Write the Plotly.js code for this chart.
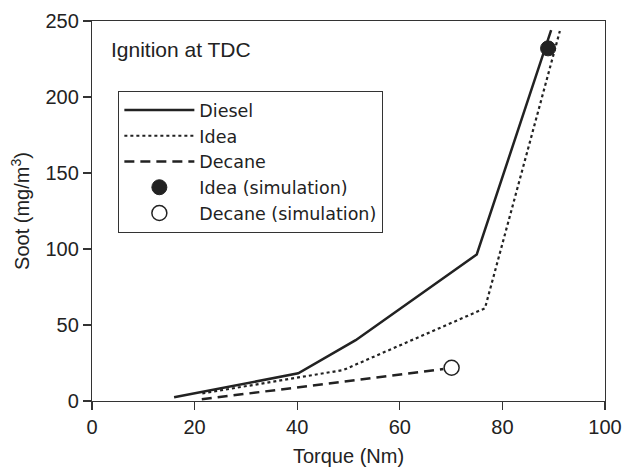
<!DOCTYPE html>
<html>
<head>
<meta charset="utf-8">
<script src="https://cdn.plot.ly/plotly-3.0.1.min.js"></script>
<style>html,body{margin:0;padding:0;background:#fff;}#chart{width:623px;height:468px;}</style>
</head>
<body>
<div id="chart"></div>
<script>
// Data
const dieselTorque = [16, 40.2, 51.4, 75, 89.5];
const dieselSoot   = [2.4, 18.2, 40, 96.4, 244];

const ideaTorque = [21.5, 40, 49, 76.6, 91.2];
const ideaSoot   = [5, 15.5, 20.4, 61, 243.4];

const decaneTorque = [21.4, 40, 68.5];
const decaneSoot   = [1.1, 9, 21];

const ideaSimTorque = [88.9];
const ideaSimSoot   = [232];

const decaneSimTorque = [70.1];
const decaneSimSoot   = [21.9];

const xTicks = [0, 20, 40, 60, 80, 100];
const yTicks = [0, 50, 100, 150, 200, 250];

const ink = '#222222';
const font = {family: 'Liberation Sans, Arial, sans-serif', size: 20, color: ink};

const traces = [
  {x: dieselTorque, y: dieselSoot, name: 'Diesel', mode: 'lines',
   line: {color: ink, width: 2.5}},
  {x: ideaTorque, y: ideaSoot, name: 'Idea', mode: 'lines',
   line: {color: ink, width: 2.2, dash: 'dot'}},
  {x: decaneTorque, y: decaneSoot, name: 'Decane', mode: 'lines',
   line: {color: ink, width: 2.5, dash: '10px,6px'}},
  {x: ideaSimTorque, y: ideaSimSoot, name: 'Idea (simulation)', mode: 'markers',
   marker: {symbol: 'circle', size: 15, color: ink, line: {color: ink, width: 1}}},
  {x: decaneSimTorque, y: decaneSimSoot, name: 'Decane (simulation)', mode: 'markers',
   marker: {symbol: 'circle', size: 15, color: '#ffffff', line: {color: ink, width: 1.5}}}
];

const axisCommon = {
  showgrid: false, zeroline: false, showline: true, mirror: true,
  linecolor: '#333', linewidth: 1.2, ticks: 'outside', ticklen: 8,
  tickcolor: '#333', tickwidth: 1.2, tickfont: font
};

const layout = {
  width: 623, height: 468,
  margin: {l: 92, r: 18, t: 21, b: 67},
  paper_bgcolor: '#fff', plot_bgcolor: '#fff',
  font: font,
  showlegend: true,
  legend: {
    x: 0.051, y: 0.816, xanchor: 'left', yanchor: 'top',
    bordercolor: '#333', borderwidth: 1.2, bgcolor: '#fff',
    font: {family: 'DejaVu Sans, Liberation Sans, sans-serif', size: 17.5, color: ink},
    itemwidth: 70, tracegroupgap: 0
  },
  xaxis: Object.assign({}, axisCommon, {
    range: [0, 100], tickvals: xTicks,
    title: {text: 'Torque (Nm)', font: font, standoff: 11}
  }),
  yaxis: Object.assign({}, axisCommon, {
    range: [0, 250], tickvals: yTicks,
    title: {text: 'Soot (mg/m<sup>3</sup>)', font: font, standoff: 10}
  }),
  annotations: [{
    xref: 'paper', yref: 'paper', x: 0.034, y: 0.924,
    xanchor: 'left', yanchor: 'middle', showarrow: false,
    text: 'Ignition at TDC', font: {family: font.family, size: 21, color: ink}
  }]
};

Plotly.newPlot('chart', traces, layout, {displayModeBar: false, staticPlot: true});
</script>
</body>
</html>
